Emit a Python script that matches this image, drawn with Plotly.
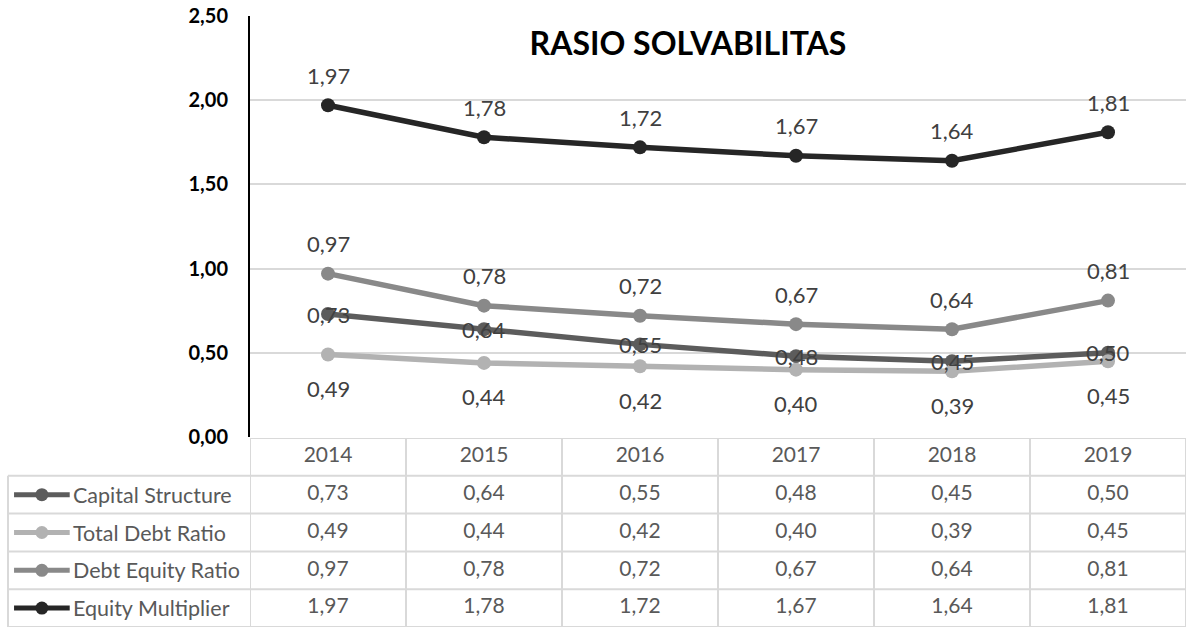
import plotly.graph_objects as go

years = ["2014", "2015", "2016", "2017", "2018", "2019"]
series_names = ["Capital Structure", "Total Debt Ratio", "Debt Equity Ratio", "Equity Multiplier"]
capital_structure = [0.73, 0.64, 0.55, 0.48, 0.45, 0.50]
total_debt_ratio = [0.49, 0.44, 0.42, 0.40, 0.39, 0.45]
debt_equity_ratio = [0.97, 0.78, 0.72, 0.67, 0.64, 0.81]
equity_multiplier = [1.97, 1.78, 1.72, 1.67, 1.64, 1.81]
y_ticks = [0.0, 0.5, 1.0, 1.5, 2.0, 2.5]

series_values = [capital_structure, total_debt_ratio, debt_equity_ratio, equity_multiplier]
colors = ["#5c5c5c", "#b2b2b2", "#898989", "#262626"]
label_shift = [0, -34, 30, 30]  # data label offsets (px)

W, H = 1187, 628
FONT = "Lato"
def px_x(p):
    return p / W
def px_y(p):
    return 1 - p / H

def fmt(v):
    return f"{v:.2f}".replace(".", ",")

fig = go.Figure()
annotations = []

# main lines
for name, vals, col, sh in zip(series_names, series_values, colors, label_shift):
    fig.add_trace(go.Scatter(
        x=years, y=vals, mode="lines+markers", name=name,
        line=dict(color=col, width=5.5), marker=dict(color=col, size=14),
        xaxis="x", yaxis="y", showlegend=False, hoverinfo="skip"))
    for xi, yv in enumerate(vals):
        annotations.append(dict(x=xi, y=yv, xref="x", yref="y", text=fmt(yv),
                                showarrow=False, yshift=sh,
                                font=dict(family=FONT, size=22, color="#404040")))

n_rows = len(series_names) + 1
header_row = n_rows - 1
# table header
fig.add_trace(go.Scatter(x=years, y=[header_row] * len(years), mode="text", text=years,
                         textfont=dict(family=FONT, size=21, color="#595959"),
                         xaxis="x2", yaxis="y2", showlegend=False, hoverinfo="skip"))
for i, (name, vals, col) in enumerate(zip(series_names, series_values, colors)):
    row = header_row - 1 - i
    fig.add_trace(go.Scatter(x=years, y=[row] * len(years), mode="text",
                             text=[fmt(v) for v in vals],
                             textfont=dict(family=FONT, size=21, color="#595959"),
                             xaxis="x2", yaxis="y2", showlegend=False, hoverinfo="skip"))
    # legend swatch
    fig.add_trace(go.Scatter(x=[0.025, 0.14, 0.255], y=[row] * 3, mode="lines",
                             line=dict(color=col, width=5), xaxis="x3", yaxis="y2",
                             showlegend=False, hoverinfo="skip"))
    fig.add_trace(go.Scatter(x=[0.14], y=[row], mode="markers",
                             marker=dict(color=col, size=13), xaxis="x3", yaxis="y2",
                             showlegend=False, hoverinfo="skip"))
    annotations.append(dict(x=0.262, y=row, xref="x3", yref="y2", text=name,
                            showarrow=False, xanchor="left",
                            font=dict(family=FONT, size=21.5, color="#595959")))

# table grid
shapes = []
grid = dict(color="#d9d9d9", width=2)
left = px_x(8)
for b in range(n_rows + 1):
    yb = b - 0.5
    x0 = px_x(250) if b == n_rows else left
    shapes.append(dict(type="line", xref="paper", yref="y2", x0=x0, x1=px_x(1186),
                       y0=yb, y1=yb, line=grid, layer="below"))
for i in range(len(years) + 1):
    shapes.append(dict(type="line", xref="x2", yref="y2", x0=i - 0.5, x1=i - 0.5,
                       y0=-0.5, y1=n_rows - 0.5, line=grid, layer="below"))
shapes.append(dict(type="line", xref="paper", yref="y2", x0=left, x1=left,
                   y0=-0.5, y1=header_row - 0.5, line=grid, layer="below"))

fig.update_layout(
    width=W, height=H, margin=dict(l=0, r=0, t=0, b=0, autoexpand=False),
    paper_bgcolor="white", plot_bgcolor="white",
    separators=",.",
    font=dict(family=FONT, color="#404040"),
    title=dict(text="<b>RASIO SOLVABILITAS</b>", x=px_x(688), y=px_y(44),
               xanchor="center", yanchor="middle",
               font=dict(family=FONT, size=32, color="#000000")),
    xaxis=dict(domain=[px_x(250), px_x(1186)], type="category", range=[-0.5, 5.5],
               showticklabels=False, showgrid=False, zeroline=False, anchor="y",
               automargin=False),
    yaxis=dict(domain=[px_y(437), px_y(16)], range=[0, 2.5], tickvals=y_ticks,
               tickformat=".2f", showline=True, linecolor="#000000", linewidth=2,
               gridcolor="#d9d9d9", gridwidth=1.5, zeroline=False,
               ticklabelstandoff=16, automargin=False,
               tickfont=dict(family=FONT, size=20, color="#000000", weight="bold"),
               anchor="x"),
    xaxis2=dict(domain=[px_x(250), px_x(1186)], type="category", range=[-0.5, 5.5],
                showticklabels=False, showgrid=False, zeroline=False, anchor="y2",
                automargin=False),
    yaxis2=dict(domain=[px_y(627), px_y(438)], range=[-0.5, n_rows - 0.5],
                showticklabels=False, showgrid=False, zeroline=False, anchor="x2",
                automargin=False),
    xaxis3=dict(domain=[px_x(8), px_x(250)], range=[0, 1], showticklabels=False,
                showgrid=False, zeroline=False, anchor="y2", automargin=False),
    shapes=shapes, annotations=annotations,
)

fig.write_html("out.html", config={"displayModeBar": False},
               post_script="document.body.style.margin='0';document.body.style.overflow='hidden';")
